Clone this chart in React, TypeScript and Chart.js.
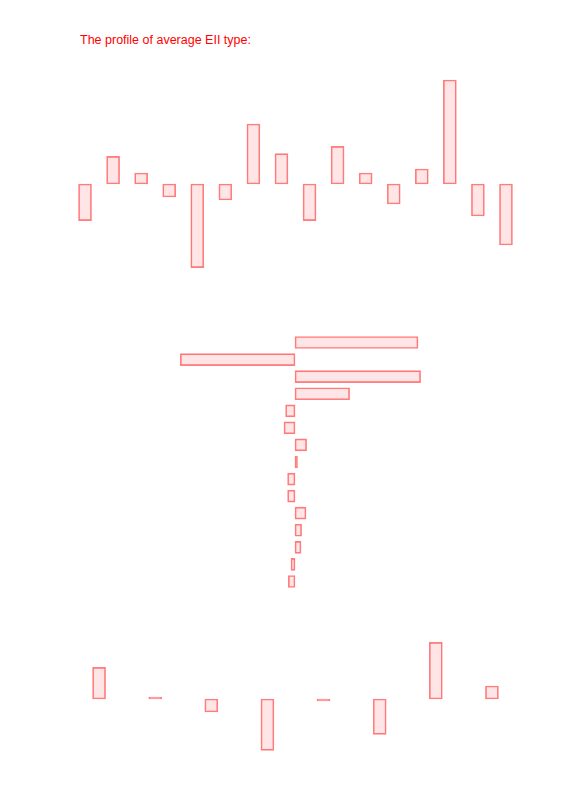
import React, { useEffect, useRef } from 'react';
import { Chart, registerables } from 'chart.js';

Chart.register(...registerables);

// top panel: 16 scales of the profile
const topCategories = ['1', '2', '3', '4', '5', '6', '7', '8', '9', '10', '11', '12', '13', '14', '15', '16'];
const topValues = [-36.7, 27.6, 11, -13, -83.7, -16, 60, 30.3, -36.7, 37.6, 11, -20, 15, 104, -32, -61];

// middle panel: 15 horizontal bars
const midCategories = ['1', '2', '3', '4', '5', '6', '7', '8', '9', '10', '11', '12', '13', '14', '15'];
const midValues = [123, -114.7, 125.6, 54.6, -9.4, -11, 11.6, 2.5, -7.4, -7.4, 11, 6.6, 6, -4, -6.7];

// bottom panel: 8 bars
const bottomCategories = ['1', '2', '3', '4', '5', '6', '7', '8'];
const bottomValues = [31.6, 2, -13, -51.4, -2, -35.4, 56.6, 13];

const BORDER = 'rgba(255, 0, 0, 0.5)';
const FILL = 'rgba(255, 0, 0, 0.1)';

function makeChart(
  canvas: HTMLCanvasElement,
  labels: string[],
  values: number[],
  horizontal: boolean,
  range: number,
  thickness: number
) {
  const valueAxis = horizontal ? 'x' : 'y';
  const catAxis = horizontal ? 'y' : 'x';
  return new Chart(canvas, {
    type: 'bar',
    data: {
      labels,
      datasets: [
        {
          data: values,
          backgroundColor: FILL,
          borderColor: BORDER,
          borderWidth: 1,
          borderSkipped: false,
          barThickness: thickness,
        },
      ],
    },
    options: {
      indexAxis: horizontal ? 'y' : 'x',
      responsive: false,
      animation: false,
      layout: { padding: 0 },
      plugins: {
        legend: { display: false },
        tooltip: { enabled: false },
        title: { display: false },
      },
      scales: {
        [catAxis]: { display: false },
        [valueAxis]: { display: false, min: -range, max: range },
      },
    },
  });
}

export default function App() {
  const topRef = useRef<HTMLCanvasElement>(null);
  const midRef = useRef<HTMLCanvasElement>(null);
  const bottomRef = useRef<HTMLCanvasElement>(null);

  useEffect(() => {
    const charts: Chart[] = [];
    if (topRef.current) charts.push(makeChart(topRef.current, topCategories, topValues, false, 110, 13));
    if (midRef.current) charts.push(makeChart(midRef.current, midCategories, midValues, true, 130, 12));
    if (bottomRef.current) charts.push(makeChart(bottomRef.current, bottomCategories, bottomValues, false, 60, 13));
    return () => {
      charts.forEach(c => c.destroy());
    };
  }, []);

  return (
    <div style={{ position: 'absolute', left: 0, top: 0, width: 566, height: 800, background: '#fff' }}>
      <div
        style={{
          position: 'absolute',
          left: 80,
          top: 34,
          fontFamily: '"Liberation Sans", Arial, sans-serif',
          fontSize: 12.5,
          lineHeight: '12.5px',
          color: '#ff0000',
          whiteSpace: 'nowrap',
        }}
      >
        The profile of average EII type:
      </div>
      <canvas ref={topRef} width={449} height={220} style={{ position: 'absolute', left: 71, top: 74 }} />
      <canvas ref={midRef} width={260} height={256} style={{ position: 'absolute', left: 165, top: 334 }} />
      <canvas ref={bottomRef} width={449} height={120} style={{ position: 'absolute', left: 71, top: 639 }} />
    </div>
  );
}
